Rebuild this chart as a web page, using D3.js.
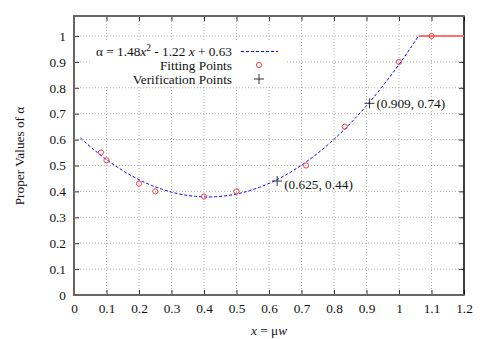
<!DOCTYPE html>
<html><head><meta charset="utf-8">
<script src="https://cdn.jsdelivr.net/npm/d3@7"></script>
<style>
body{margin:0;background:#fff;}
text{font-family:"Liberation Serif","Times New Roman",serif;}
</style></head>
<body><svg id="c" width="485" height="339"></svg>
<script>
const xTicks = [0,0.1,0.2,0.3,0.4,0.5,0.6,0.7,0.8,0.9,1,1.1,1.2];
const yTicks = [0,0.1,0.2,0.3,0.4,0.5,0.6,0.7,0.8,0.9,1];
const fitX = [0.083,0.1,0.2,0.25,0.4,0.5,0.714,0.833,1.0,1.1];
const fitY = [0.55,0.52,0.43,0.40,0.38,0.40,0.50,0.65,0.90,1.0];
const verX = [0.625,0.909];
const verY = [0.44,0.74];
const verLabels = ["(0.625, 0.44)","(0.909, 0.74)"];
const coef = [1.48,-1.22,0.63];
const curveStart = 0.02;
const capValue = 1;
const xMax = 1.2;

const FS = 13.3;
const svg = d3.select("#c");
const L=74,R=464,T=16,B=295;
const x = d3.scaleLinear().domain([0,1.2]).range([L,R]);
const y = d3.scaleLinear().domain([0,1.0772]).range([B,T]);

// grid
const g = svg.append("g");
g.selectAll(".gx").data(xTicks.slice(1,-1)).enter().append("line")
 .attr("x1",d=>x(d)).attr("x2",d=>x(d)).attr("y1",B).attr("y2",T)
 .attr("stroke","#b0b0b0").attr("stroke-width",1).attr("stroke-dasharray","1,2");
g.selectAll(".gy").data(yTicks.slice(1)).enter().append("line")
 .attr("x1",L).attr("x2",R).attr("y1",d=>y(d)).attr("y2",d=>y(d))
 .attr("stroke","#b0b0b0").attr("stroke-width",1).attr("stroke-dasharray","1,2");

// axes
const ax = svg.append("g").attr("transform",`translate(0,${B})`)
 .call(d3.axisBottom(x).tickValues(xTicks).tickFormat(d3.format("")).tickSize(-5).tickPadding(9));
const axT = svg.append("g").attr("transform",`translate(0,${T})`)
 .call(d3.axisTop(x).tickValues(xTicks).tickFormat("").tickSize(-5));
const ay = svg.append("g").attr("transform",`translate(${L},0)`)
 .call(d3.axisLeft(y).tickValues(yTicks).tickFormat(d3.format("")).tickSize(-5).tickPadding(8));
const ayR = svg.append("g").attr("transform",`translate(${R},0)`)
 .call(d3.axisRight(y).tickValues(yTicks).tickFormat("").tickSize(-5));
[ax,axT,ay,ayR].forEach(a=>{
  a.selectAll(".domain").remove();
  a.selectAll(".tick line").attr("stroke","#333");
  a.selectAll("text").attr("font-size",FS).attr("fill","#111")
   .style("font-family","'Liberation Serif',serif");
});

// legend background
svg.append("rect").attr("x",92).attr("y",42).attr("width",193).attr("height",44).attr("fill","#fff");

// border
svg.append("line").attr("x1",R).attr("x2",R).attr("y1",T).attr("y2",B).attr("stroke","#000").attr("stroke-width",1.5);
svg.append("line").attr("x1",L).attr("x2",R+0.75).attr("y1",T).attr("y2",T).attr("stroke","#666").attr("stroke-width",2);
svg.append("line").attr("x1",L).attr("x2",L).attr("y1",T-1).attr("y2",B+1).attr("stroke","#666").attr("stroke-width",2);
svg.append("line").attr("x1",L).attr("x2",R+0.75).attr("y1",B).attr("y2",B).attr("stroke","#666").attr("stroke-width",2);

// fit curve
const f = v => coef[0]*v*v + coef[1]*v + coef[2];
const xEnd = (-coef[1] + Math.sqrt(coef[1]*coef[1] - 4*coef[0]*(coef[2]-capValue)))/(2*coef[0]);
const curvePts = d3.range(0,101).map(i => curveStart + (xEnd-curveStart)*i/100);
svg.append("path").datum(curvePts)
 .attr("d", d3.line().x(d=>x(d)).y(d=>y(f(d))))
 .attr("fill","none").attr("stroke","#0000ff").attr("stroke-width",1).attr("stroke-dasharray","3,2");
svg.append("line").attr("x1",x(xEnd)).attr("x2",x(xMax)).attr("y1",y(capValue)).attr("y2",y(capValue))
 .attr("stroke","#ff7070").attr("stroke-width",2);

// fitting points
svg.selectAll(".fp").data(fitX).enter().append("circle")
 .attr("cx",d=>x(d)).attr("cy",(d,i)=>y(fitY[i])).attr("r",2.6)
 .attr("fill","none").attr("stroke","#ff4040").attr("stroke-width",1);

// verification points
function plus(cx,cy,s){
  svg.append("path").attr("d",`M${cx-s},${cy}H${cx+s}M${cx},${cy-s}V${cy+s}`)
   .attr("stroke","#333").attr("stroke-width",1);
}
verX.forEach((v,i)=>{
  plus(x(v),y(verY[i]),5);
  svg.append("text").attr("x",x(v)+7).attr("y",y(verY[i])+ (i==0?8:5))
   .attr("font-size",FS).attr("fill","#111").text(verLabels[i]);
});

// legend
const lg = svg.append("g");
const t1 = lg.append("text").attr("x",232).attr("y",56).attr("text-anchor","end").attr("font-size",FS).attr("fill","#111");
t1.append("tspan").text("α = 1.48");
t1.append("tspan").attr("font-style","italic").text("x");
t1.append("tspan").attr("dy",-5).attr("font-size",9.5).text("2");
t1.append("tspan").attr("dy",5).text(" - 1.22 ");
t1.append("tspan").attr("font-style","italic").text("x");
t1.append("tspan").text(" + 0.63");
lg.append("line").attr("x1",241).attr("x2",278).attr("y1",51.5).attr("y2",51.5)
 .attr("stroke","#0000ff").attr("stroke-width",1).attr("stroke-dasharray","3,2");
lg.append("text").attr("x",232).attr("y",69.5).attr("text-anchor","end").attr("font-size",FS).attr("fill","#111").text("Fitting Points");
lg.append("circle").attr("cx",259).attr("cy",65).attr("r",2.6).attr("fill","none").attr("stroke","#ff4040");
lg.append("text").attr("x",232).attr("y",83.5).attr("text-anchor","end").attr("font-size",FS).attr("fill","#111").text("Verification Points");
plus(259,79,5);

// axis titles
const xt = svg.append("text").attr("x",269).attr("y",335).attr("text-anchor","middle").attr("font-size",FS).attr("fill","#111");
xt.append("tspan").attr("font-style","italic").text("x");
xt.append("tspan").text(" = μ");
xt.append("tspan").attr("font-style","italic").text("w");
svg.append("text").attr("transform","translate(24,156) rotate(-90)").attr("text-anchor","middle")
 .attr("font-size",FS).attr("fill","#111").text("Proper Values of α");
</script></body></html>
